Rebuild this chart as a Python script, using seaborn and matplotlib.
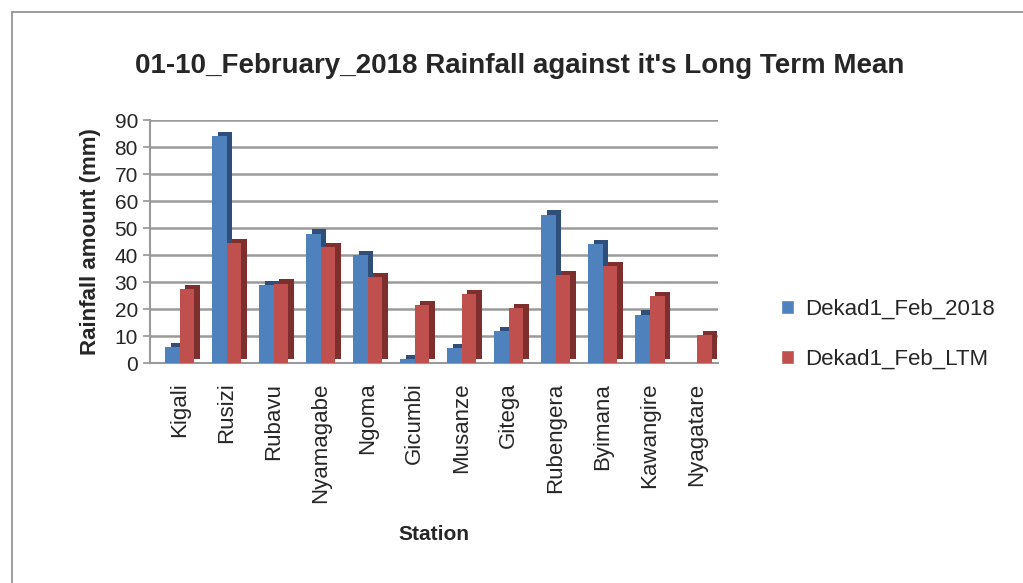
import numpy as np
import pandas as pd
import matplotlib
matplotlib.use("Agg")
import matplotlib.pyplot as plt
import matplotlib.patheffects as pe
from matplotlib.patches import Rectangle
import seaborn as sns

# data
stations = ['Kigali', 'Rusizi', 'Rubavu', 'Nyamagabe', 'Ngoma', 'Gicumbi',
            'Musanze', 'Gitega', 'Rubengera', 'Byimana', 'Kawangire', 'Nyagatare']
dekad_2018 = [6, 84, 29, 48, 40, 1.5, 5.5, 12, 55, 44, 18, 0]
dekad_ltm = [27.5, 44.5, 29.5, 43, 32, 21.5, 25.5, 20.5, 32.5, 36, 25, 10.5]
series = ['Dekad1_Feb_2018', 'Dekad1_Feb_LTM']

df = pd.DataFrame({'Station': stations * 2,
                   'Rain': dekad_2018 + dekad_ltm,
                   'Series': [series[0]] * len(stations) + [series[1]] * len(stations)})

sns.set_theme(style='white')
plt.rcParams['font.family'] = ['Liberation Sans', 'DejaVu Sans']

pal = {series[0]: '#4F81BD', series[1]: '#C0504D'}
dark = {series[0]: '#2F4F7A', series[1]: '#7E2F2D'}

fig = plt.figure(figsize=(10.23, 5.83), dpi=100)
ax = fig.add_axes([0.147, 0.377, 0.555, 0.417])

sns.barplot(data=df, x='Station', y='Rain', hue='Series', palette=pal,
            width=0.62, saturation=1, ax=ax, legend=True, zorder=3)

# fake the excel 3d look with an offset shadow
for cont, s in zip(ax.containers, series):
    for bar in cont:
        bar.set_path_effects([pe.SimplePatchShadow(offset=(4, 3), shadow_rgbFace=dark[s], alpha=1),
                              pe.Normal()])
        bar.set_edgecolor('none')

ax.set_ylim(0, 90)
ax.set_yticks(np.arange(0, 91, 10))
ax.set_xlim(-0.62, 11.45)
ax.yaxis.grid(True, color='#9A9A9A', lw=1.8, zorder=0)
ax.set_axisbelow(True)
for sp in ['top', 'right']:
    ax.spines[sp].set_visible(False)
ax.spines['left'].set_color('#9A9A9A')
ax.spines['left'].set_linewidth(1.5)
ax.spines['bottom'].set_color('#9A9A9A')
ax.spines['bottom'].set_linewidth(1.5)
ax.tick_params(axis='y', labelsize=15, left=True, length=5, color='#9A9A9A', pad=4)
ax.tick_params(axis='x', labelsize=16, rotation=90, bottom=False, pad=8)

ax.set_xlabel('Station', fontsize=15, fontweight='bold', labelpad=16)
ax.set_ylabel('Rainfall amount (mm)', fontsize=16, fontweight='bold', labelpad=10)
ax.set_title("01-10_February_2018 Rainfall against it's Long Term Mean",
             fontsize=20, fontweight='bold', x=0.65, y=1.16)

ax.legend(loc='center left', bbox_to_anchor=(1.075, 0.12), frameon=False,
          fontsize=16, handlelength=0.6, handleheight=0.6, labelspacing=1.3,
          handletextpad=0.5)

fig.patches.append(Rectangle((0.012, -0.05), 1.2, 1.029, transform=fig.transFigure,
                             fill=False, edgecolor='#8C8C8C', lw=1.2))

fig.savefig('out.png', dpi=100)
